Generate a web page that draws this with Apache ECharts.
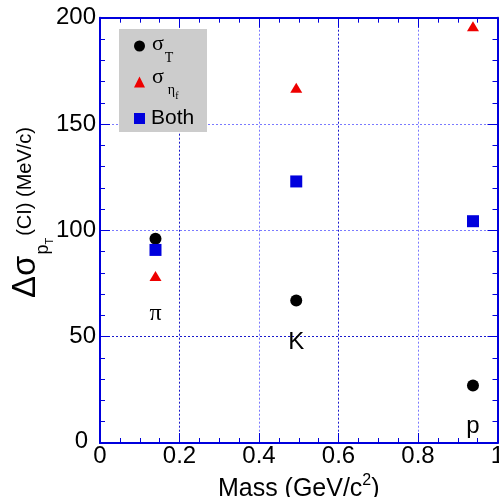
<!DOCTYPE html>
<html><head><meta charset="utf-8">
<script src="https://cdn.jsdelivr.net/npm/echarts@6/dist/echarts.min.js"></script>
<style>html,body{margin:0;padding:0;background:#fff}#c{width:499px;height:497px}</style>
</head><body><div id="c"></div>
<script>
// ---- data ----
const masses = [0.1396, 0.4937, 0.9383];
const sigmaT = [96, 67, 27];
const sigmaEta = [78.5, 167, 196];
const both = [90.8, 123, 104.3];
const particleNames = ['π', 'K', 'p'];
const particleLabelY = [61, 47.5, 8];
const xTickValues = [0, 0.2, 0.4, 0.6, 0.8, 1];
const yTickValues = [0, 50, 100, 150, 200];

const BLUE = '#0000dd';
const RED = '#ee0000';
const SANS = 'Liberation Sans, Arial, sans-serif';
const SERIF = 'Liberation Serif, Times New Roman, serif';

const chart = echarts.init(document.getElementById('c'), null, {renderer: 'canvas'});

function pts(vals) { return masses.map((m, i) => [m, vals[i]]); }

const axisCommon = {
  axisLine: {show: true, onZero: false, lineStyle: {color: BLUE, width: 2}},
  axisTick: {show: true, inside: true, length: 10, lineStyle: {color: BLUE, width: 1}},
  minorTick: {show: true, length: 5, lineStyle: {color: BLUE, width: 1}}
};

function tok(family, size, padTop, padBottom, padLeft) {
  return {fontFamily: family, fontSize: size, color: '#000', lineHeight: 35, height: 1,
    padding: [padTop, 0, padBottom, padLeft || 0]};
}

const option = {
  animation: false,
  backgroundColor: '#ffffff',
  grid: {left: 100, right: 1.5, top: 17.7, bottom: 54, containLabel: false, outerBoundsMode: 'none'},
  xAxis: [{
    type: 'value', min: xTickValues[0], max: xTickValues[xTickValues.length - 1], interval: 0.2,
    position: 'bottom',
    ...axisCommon,
    minorTick: {...axisCommon.minorTick, splitNumber: 4},
    axisLabel: {show: true, color: '#000', fontFamily: SANS, fontSize: 24, margin: 1,
      formatter: v => String(+v.toFixed(1)), showMinLabel: true, showMaxLabel: true},
    splitLine: {show: true, lineStyle: {color: ['#7a7aff', '#1a1acc'], type: [2, 2], width: 1}},
    name: 'Mass (GeV/c{s|2})', nameLocation: 'middle', nameGap: 27,
    nameTextStyle: {color: '#000', fontFamily: SANS, fontSize: 25,
      rich: {s: {fontFamily: SANS, fontSize: 16, color: '#000', padding: [0, 0, 16, 0]}}}
  }, {
    type: 'value', min: xTickValues[0], max: xTickValues[xTickValues.length - 1], interval: 0.2,
    position: 'top',
    ...axisCommon,
    minorTick: {...axisCommon.minorTick, splitNumber: 4},
    axisLabel: {show: false}, splitLine: {show: false}
  }],
  yAxis: [{
    type: 'value', min: yTickValues[0], max: yTickValues[yTickValues.length - 1], interval: 50,
    position: 'left',
    ...axisCommon,
    minorTick: {...axisCommon.minorTick, splitNumber: 5},
    axisLabel: {show: true, color: '#000', fontFamily: SANS, fontSize: 24, margin: 4,
      formatter: v => v === 0 ? '{z|0}' : String(v),
      rich: {z: {fontFamily: SANS, fontSize: 24, color: '#000', padding: [0, 8, 4, 0]}}},
    splitLine: {show: true, lineStyle: {color: ['#7a7aff', '#1a1acc', '#7a7aff'], type: [2, 2], width: 1}}
  }, {
    type: 'value', min: yTickValues[0], max: yTickValues[yTickValues.length - 1], interval: 50,
    position: 'right',
    ...axisCommon,
    minorTick: {...axisCommon.minorTick, splitNumber: 5},
    axisLabel: {show: false}, splitLine: {show: false}
  }],
  legend: {
    orient: 'vertical', left: 134, top: 46 - 17.5, padding: 0, itemGap: -0.5,
    itemWidth: 11, itemHeight: 11, selectedMode: false,
    data: [
      {name: 'sigmaT', icon: 'circle'},
      {name: 'sigmaEta', icon: 'triangle'},
      {name: 'Both', icon: 'rect'}
    ],
    formatter: function (name) {
      if (name === 'sigmaT') return '{s1|σ}{t1|T}';
      if (name === 'sigmaEta') return '{s2|σ}{e2|η}{f2|f}';
      return '{b3|Both}';
    },
    textStyle: {
      color: '#000', lineHeight: 35,
      rich: {
        s1: tok(SERIF, 22, 0, 3.4, 2),
        t1: tok(SERIF, 14, 24, 0, 1),
        s2: tok(SERIF, 22, 0, 9, 2),
        e2: tok(SERIF, 14, 17, 0, 4),
        f2: tok(SERIF, 10, 29, 0, 0),
        b3: tok(SANS, 21, 0, 0, 1)
      }
    }
  },
  graphic: [
    {type: 'rect', z: 3, shape: {x: 119, y: 29, width: 88, height: 103}, style: {fill: '#cccccc'}},
    {type: 'text', z: 5, x: 26, y: 298, rotation: Math.PI / 2,
      style: {
        text: '{d|Δσ}{p|p}{t|T}{c|(CI) (MeV/c)}',
        align: 'left', verticalAlign: 'middle',
        rich: {
          d: {fontFamily: SANS, fontSize: 33, color: '#000', lineHeight: 44},
          p: {fontFamily: SANS, fontSize: 18, color: '#000', lineHeight: 44, height: 1, padding: [34, 0, 0, 1]},
          t: {fontFamily: SANS, fontSize: 11, color: '#000', lineHeight: 44, height: 1, padding: [48, 0, 0, 0]},
          c: {fontFamily: SANS, fontSize: 20, color: '#000', lineHeight: 44, height: 1, padding: [0, 0, 2, 2]}
        }
      }}
  ],
  series: [
    {name: 'sigmaT', type: 'scatter', symbol: 'circle', symbolSize: 12, data: pts(sigmaT),
      itemStyle: {color: '#000000', opacity: 1}, z: 5},
    {name: 'sigmaEta', type: 'scatter', symbol: 'triangle', symbolSize: [12, 10], data: pts(sigmaEta),
      itemStyle: {color: RED, opacity: 1}, z: 5},
    {name: 'Both', type: 'scatter', symbol: 'rect', symbolSize: 12, data: pts(both),
      itemStyle: {color: BLUE, opacity: 1}, z: 6},
    {name: 'labels', type: 'scatter', symbolSize: 0, silent: true,
      itemStyle: {opacity: 1},
      data: masses.map((m, i) => ({value: [m, particleLabelY[i]], name: particleNames[i]})),
      label: {show: true, position: 'inside', formatter: p => p.name, color: '#000', opacity: 1,
        fontFamily: SANS, fontSize: 24},
      labelLayout: {hideOverlap: false}}
  ]
};
option.series[3].data[0].label = {fontFamily: SERIF, fontSize: 24, color: '#000'};
chart.setOption(option);
</script>
</body></html>
